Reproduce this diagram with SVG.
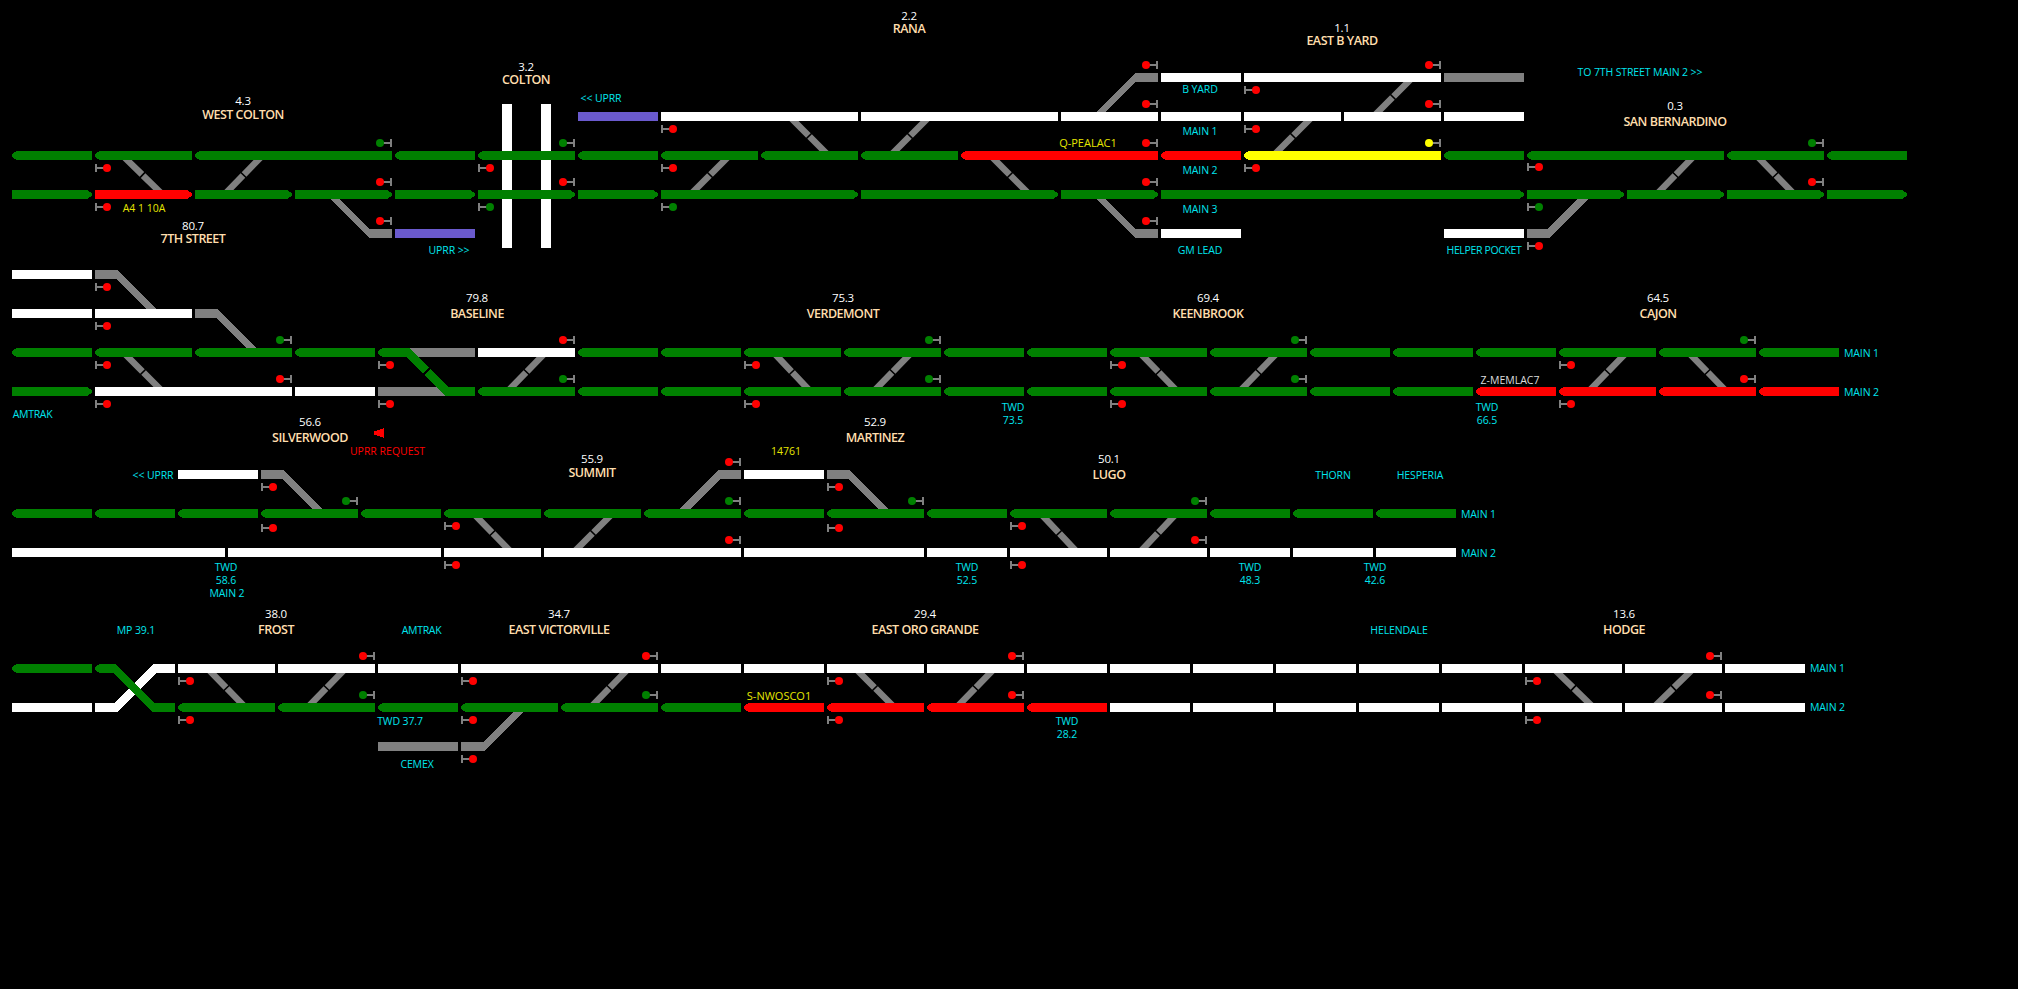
<svg xmlns="http://www.w3.org/2000/svg" width="2018" height="989" viewBox="0 0 2018 989">
<style>
path,rect{shape-rendering:crispEdges}
text{font-family:"Open Sans","Noto Sans","Liberation Sans",sans-serif;text-anchor:middle}
.n{font-size:11.5px;fill:#fff;letter-spacing:-.2px}
.s{font-size:12.5px;font-weight:600;fill:#ffdead;letter-spacing:-.5px}
.c{font-size:10.5px;fill:#00e5ee;letter-spacing:-.12px}
.y{font-size:10.5px;fill:#e6e600}
.st{text-anchor:start}
.g{fill:#008000}.r{fill:#f00}.ye{fill:#ff0}.w{fill:#fff}.b{fill:#6a5acd}.a{fill:#808080}
.x{stroke:#808080;stroke-width:6.5;stroke-dasharray:48.5 3 60;fill:none}
</style>
<defs>
<path id="L80" d="M0 3L5 0H80V9H5L0 6z"/>
<path id="L97" d="M0 3L5 0H97V9H5L0 6z"/>
<path id="L197" d="M0 3L5 0H197V9H5L0 6z"/>
<path id="R80" d="M0 0H75L80 3V6L75 9H0z"/>
<path id="R97" d="M0 0H92L97 3V6L92 9H0z"/>
<path id="R197" d="M0 0H192L197 3V6L192 9H0z"/>
<path id="R363" d="M0 0H358L363 3V6L358 9H0z"/>
<rect id="P80" width="80" height="9"/>
<rect id="P97" width="97" height="9"/>
<rect id="P197" width="197" height="9"/>
<rect id="P213" width="213" height="9"/>
<g id="SL"><path fill="#808080" d="M0-4H2V-1H9V1H2V4H0z"/><circle cx="12" r="4"/></g>
<g id="SR"><path fill="#808080" d="M0-4H-2V-1H-9V1H-2V4H0z"/><circle cx="-12" r="4"/></g>
</defs>
<rect width="2018" height="989" fill="#000"/>
<g id="colton-crossing" class="w"><rect x="502" y="104" width="10" height="144"/><rect x="541" y="104" width="10" height="144"/></g>
<g id="connectors">
<g id="crossovers" class="x">
<line pathLength="100" x1="123" y1="156" x2="162" y2="194"/><line pathLength="100" x1="262" y1="156" x2="225" y2="194"/>
<line pathLength="100" x1="790" y1="117" x2="828" y2="155"/><line pathLength="100" x1="929" y1="117" x2="891" y2="155"/>
<line pathLength="100" x1="729" y1="156" x2="691" y2="194"/><line pathLength="100" x1="991" y1="156" x2="1029" y2="194"/>
<line pathLength="100" x1="1412" y1="78" x2="1374" y2="116"/><line pathLength="100" x1="1312" y1="117" x2="1274" y2="155"/>
<line pathLength="100" x1="1694" y1="156" x2="1657" y2="194"/><line pathLength="100" x1="1757" y1="156" x2="1794" y2="194"/>
<line pathLength="100" x1="124" y1="353" x2="162" y2="391"/><line pathLength="100" x1="545" y1="353" x2="508" y2="391"/>
<line pathLength="100" x1="774" y1="353" x2="810" y2="391"/><line pathLength="100" x1="911" y1="353" x2="874" y2="391"/>
<line pathLength="100" x1="1140" y1="353" x2="1177" y2="391"/><line pathLength="100" x1="1277" y1="353" x2="1240" y2="391"/>
<line pathLength="100" x1="1626" y1="353" x2="1589" y2="391"/><line pathLength="100" x1="1689" y1="353" x2="1726" y2="391"/>
<line pathLength="100" x1="474" y1="514" x2="511" y2="552"/><line pathLength="100" x1="612" y1="514" x2="574" y2="552"/>
<line pathLength="100" x1="1041" y1="514" x2="1077" y2="552"/><line pathLength="100" x1="1176" y1="514" x2="1140" y2="552"/>
<line pathLength="100" x1="208" y1="669" x2="245" y2="707"/><line pathLength="100" x1="345" y1="669" x2="308" y2="707"/>
<line pathLength="100" x1="628" y1="669" x2="591" y2="707"/><line pathLength="100" x1="856" y1="669" x2="894" y2="707"/>
<line pathLength="100" x1="994" y1="669" x2="957" y2="707"/><line pathLength="100" x1="1554" y1="669" x2="1593" y2="707"/>
<line pathLength="100" x1="1693" y1="669" x2="1654" y2="707"/>
</g>
<g id="turnouts" class="a">
<path d="M330 199H340L369 229H392V238H369z"/>
<path d="M1097 112H1106L1135 82H1158V73H1135z"/>
<path d="M1097 199H1106L1135 229H1158V238H1135z"/>
<path d="M1577 199H1588L1550 238H1527V229H1548z"/>
<path d="M95 270H118L156 309H147L116 279H95z"/>
<path d="M195 309H218L256 348H246L216 318H195z"/>
<path d="M261 470H284L322 509H312L282 479H261z"/>
<path d="M741 470H718L680 509H690L720 479H741z"/>
<path d="M827 470H850L888 509H878L848 479H827z"/>
<path d="M513 712H523L484 751H461V742H483z"/>
<rect x="1444" y="73" width="80" height="9"/>
<rect x="378" y="742" width="80" height="9"/>
<rect x="409" y="348" width="66" height="9"/>
<path d="M378 387H447V396H378z"/>
</g>
<g id="baseline-route" class="g"><path d="M378 351L383 348H409L448 387H475V396H445L407 357H383L378 354z"/></g>
<path id="baseline-break" d="M423 375L431 367" stroke="#000" stroke-width="1.5"/>
<g id="mp39-crossing"><path class="w" d="M95 703H115L153 664H175V673H157L117 712H95z"/><path class="g" d="M95 667L100 664H115L155 703H175V712H153L113 673H100L95 670z"/></g>
</g>
<g id="tracks">
<g id="track-y73" class="w"><use href="#P80" x="1161" y="73"/><use href="#P197" x="1244" y="73"/></g>
<g id="track-y112"><use class="b" href="#P80" x="578" y="112"/><g class="w"><rect x="661" y="112" width="197" height="9"/><use href="#P197" x="861" y="112"/><use href="#P97" x="1061" y="112"/><use href="#P80" x="1161" y="112"/><use href="#P97" x="1244" y="112"/><use href="#P97" x="1344" y="112"/><use href="#P80" x="1444" y="112"/></g></g>
<g id="track-y151" class="g"><use href="#L80" x="12" y="151"/><use href="#L97" x="95" y="151"/><use href="#L197" x="195" y="151"/><use href="#L80" x="395" y="151"/><use href="#L97" x="478" y="151"/><use href="#L80" x="578" y="151"/><use href="#L97" x="661" y="151"/><use href="#L97" x="761" y="151"/><use href="#L97" x="861" y="151"/><use class="r" href="#L197" x="961" y="151"/><use class="r" href="#L80" x="1161" y="151"/><use class="ye" href="#L197" x="1244" y="151"/><use href="#L80" x="1444" y="151"/><use href="#L197" x="1527" y="151"/><use href="#L97" x="1727" y="151"/><use href="#L80" x="1827" y="151"/></g>
<g id="track-y190" class="g"><use href="#R80" x="12" y="190"/><use class="r" href="#R97" x="95" y="190"/><use href="#R97" x="195" y="190"/><use href="#R97" x="295" y="190"/><use href="#R80" x="395" y="190"/><use href="#R97" x="478" y="190"/><use href="#R80" x="578" y="190"/><use href="#R197" x="661" y="190"/><use href="#R197" x="861" y="190"/><use href="#R97" x="1061" y="190"/><use href="#R363" x="1161" y="190"/><use href="#R97" x="1527" y="190"/><use href="#R97" x="1627" y="190"/><use href="#R97" x="1727" y="190"/><use href="#R80" x="1827" y="190"/></g>
<g id="track-y229"><use class="b" href="#P80" x="395" y="229"/><use class="w" href="#P80" x="1161" y="229"/><use class="w" href="#P80" x="1444" y="229"/></g>
<g id="track-y270" class="w"><use href="#P80" x="12" y="270"/></g>
<g id="track-y309" class="w"><use href="#P80" x="12" y="309"/><use href="#P97" x="95" y="309"/></g>
<g id="track-y348" class="g"><use href="#L80" x="12" y="348"/><use href="#L97" x="95" y="348"/><use href="#L97" x="195" y="348"/><use href="#L80" x="295" y="348"/><use class="w" href="#P97" x="478" y="348"/><use href="#L80" x="578" y="348"/><use href="#L80" x="661" y="348"/><use href="#L97" x="744" y="348"/><use href="#L97" x="844" y="348"/><use href="#L80" x="944" y="348"/><use href="#L80" x="1027" y="348"/><use href="#L97" x="1110" y="348"/><use href="#L97" x="1210" y="348"/><use href="#L80" x="1310" y="348"/><use href="#L80" x="1393" y="348"/><use href="#L80" x="1476" y="348"/><use href="#L97" x="1559" y="348"/><use href="#L97" x="1659" y="348"/><use href="#L80" x="1759" y="348"/></g>
<g id="track-y387" class="g"><use href="#R80" x="12" y="387"/><use class="w" href="#P197" x="95" y="387"/><use class="w" href="#P80" x="295" y="387"/><use href="#L97" x="478" y="387"/><use href="#L80" x="578" y="387"/><use href="#L80" x="661" y="387"/><use href="#L97" x="744" y="387"/><use href="#L97" x="844" y="387"/><use href="#L80" x="944" y="387"/><use href="#L80" x="1027" y="387"/><use href="#L97" x="1110" y="387"/><use href="#L97" x="1210" y="387"/><use href="#L80" x="1310" y="387"/><use href="#L80" x="1393" y="387"/><use class="r" href="#L80" x="1476" y="387"/><use class="r" href="#L97" x="1559" y="387"/><use class="r" href="#L97" x="1659" y="387"/><use class="r" href="#L80" x="1759" y="387"/></g>
<g id="track-y470" class="w"><use href="#P80" x="178" y="470"/><use href="#P80" x="744" y="470"/></g>
<g id="track-y509" class="g"><use href="#L80" x="12" y="509"/><use href="#L80" x="95" y="509"/><use href="#L80" x="178" y="509"/><use href="#L97" x="261" y="509"/><use href="#L80" x="361" y="509"/><use href="#L97" x="444" y="509"/><use href="#L97" x="544" y="509"/><use href="#L97" x="644" y="509"/><use href="#L80" x="744" y="509"/><use href="#L97" x="827" y="509"/><use href="#L80" x="927" y="509"/><use href="#L97" x="1010" y="509"/><use href="#L97" x="1110" y="509"/><use href="#L80" x="1210" y="509"/><use href="#L80" x="1293" y="509"/><use href="#L80" x="1376" y="509"/></g>
<g id="track-y548" class="w"><use href="#P213" x="12" y="548"/><use href="#P213" x="228" y="548"/><use href="#P97" x="444" y="548"/><use href="#P197" x="544" y="548"/><rect x="744" y="548" width="180" height="9"/><use href="#P80" x="927" y="548"/><use href="#P97" x="1010" y="548"/><use href="#P97" x="1110" y="548"/><use href="#P80" x="1210" y="548"/><use href="#P80" x="1293" y="548"/><use href="#P80" x="1376" y="548"/></g>
<g id="track-y664"><use class="g" href="#L80" x="12" y="664"/><g class="w"><use href="#P97" x="178" y="664"/><use href="#P97" x="278" y="664"/><use href="#P80" x="378" y="664"/><use href="#P197" x="461" y="664"/><use href="#P80" x="661" y="664"/><use href="#P80" x="744" y="664"/><use href="#P97" x="827" y="664"/><use href="#P97" x="927" y="664"/><use href="#P80" x="1027" y="664"/><use href="#P80" x="1110" y="664"/><use href="#P80" x="1193" y="664"/><use href="#P80" x="1276" y="664"/><use href="#P80" x="1359" y="664"/><use href="#P80" x="1442" y="664"/><use href="#P97" x="1525" y="664"/><use href="#P97" x="1625" y="664"/><use href="#P80" x="1725" y="664"/></g></g>
<g id="track-y703" class="g"><use class="w" href="#P80" x="12" y="703"/><use href="#L97" x="178" y="703"/><use href="#L97" x="278" y="703"/><use href="#L80" x="378" y="703"/><use href="#L97" x="461" y="703"/><use href="#L97" x="561" y="703"/><use href="#L80" x="661" y="703"/><use class="r" href="#L80" x="744" y="703"/><use class="r" href="#L97" x="827" y="703"/><use class="r" href="#L97" x="927" y="703"/><use class="r" href="#L80" x="1027" y="703"/><g class="w"><use href="#P80" x="1110" y="703"/><use href="#P80" x="1193" y="703"/><use href="#P80" x="1276" y="703"/><use href="#P80" x="1359" y="703"/><use href="#P80" x="1442" y="703"/><use href="#P97" x="1525" y="703"/><use href="#P97" x="1625" y="703"/><use href="#P80" x="1725" y="703"/></g></g>
</g>
<g id="signals-red" class="r">
<use href="#SL" x="95" y="168"/><use href="#SL" x="95" y="207"/><use href="#SL" x="478" y="168"/><use href="#SL" x="661" y="129"/><use href="#SL" x="661" y="168"/><use href="#SL" x="1244" y="90"/><use href="#SL" x="1244" y="129"/><use href="#SL" x="1244" y="168"/><use href="#SL" x="1527" y="167"/><use href="#SL" x="1527" y="246"/>
<use href="#SR" x="392" y="182"/><use href="#SR" x="392" y="221"/><use href="#SR" x="575" y="182"/><use href="#SR" x="1158" y="65"/><use href="#SR" x="1158" y="104"/><use href="#SR" x="1158" y="143"/><use href="#SR" x="1158" y="182"/><use href="#SR" x="1158" y="221"/><use href="#SR" x="1441" y="65"/><use href="#SR" x="1441" y="104"/><use href="#SR" x="1824" y="182"/>
<use href="#SL" x="95" y="287"/><use href="#SL" x="95" y="326"/><use href="#SL" x="95" y="365"/><use href="#SL" x="95" y="404"/><use href="#SL" x="378" y="365"/><use href="#SL" x="378" y="404"/><use href="#SL" x="744" y="365"/><use href="#SL" x="744" y="404"/><use href="#SL" x="1110" y="365"/><use href="#SL" x="1110" y="404"/><use href="#SL" x="1559" y="365"/><use href="#SL" x="1559" y="404"/>
<use href="#SR" x="292" y="379"/><use href="#SR" x="575" y="340"/><use href="#SR" x="1756" y="379"/>
<use href="#SL" x="261" y="487"/><use href="#SL" x="261" y="528"/><use href="#SL" x="444" y="526"/><use href="#SL" x="444" y="565"/><use href="#SL" x="827" y="487"/><use href="#SL" x="827" y="528"/><use href="#SL" x="1010" y="526"/><use href="#SL" x="1010" y="565"/>
<use href="#SR" x="741" y="462"/><use href="#SR" x="741" y="540"/><use href="#SR" x="1207" y="540"/>
<use href="#SL" x="178" y="681"/><use href="#SL" x="178" y="720"/><use href="#SL" x="461" y="681"/><use href="#SL" x="461" y="720"/><use href="#SL" x="461" y="759"/><use href="#SL" x="827" y="681"/><use href="#SL" x="827" y="720"/><use href="#SL" x="1525" y="681"/><use href="#SL" x="1525" y="720"/>
<use href="#SR" x="375" y="656"/><use href="#SR" x="658" y="656"/><use href="#SR" x="1024" y="656"/><use href="#SR" x="1024" y="695"/><use href="#SR" x="1722" y="656"/><use href="#SR" x="1722" y="695"/>
</g>
<g id="signals-green" class="g">
<use href="#SL" x="478" y="207"/><use href="#SL" x="661" y="207"/><use href="#SL" x="1527" y="207"/>
<use href="#SR" x="392" y="143"/><use href="#SR" x="575" y="143"/><use href="#SR" x="1824" y="143"/>
<use href="#SR" x="292" y="340"/><use href="#SR" x="575" y="379"/><use href="#SR" x="941" y="340"/><use href="#SR" x="941" y="379"/><use href="#SR" x="1307" y="340"/><use href="#SR" x="1307" y="379"/><use href="#SR" x="1756" y="340"/>
<use href="#SR" x="358" y="501"/><use href="#SR" x="741" y="501"/><use href="#SR" x="924" y="501"/><use href="#SR" x="1207" y="501"/>
<use href="#SR" x="375" y="695"/><use href="#SR" x="658" y="695"/>
</g>
<g id="signals-yellow" class="ye"><use href="#SR" x="1441" y="143"/></g>
<path id="uprr-request-marker" class="r" d="M374 431.500L384 428V438L374 434.500z"/>
<g id="stations">
<g id="st-west-colton"><text class="n" x="243" y="105">4.3</text><text class="s" x="243" y="119">WEST COLTON</text></g>
<g id="st-colton"><text class="n" x="526" y="71">3.2</text><text class="s" x="526" y="84">COLTON</text></g>
<g id="st-7th-street"><text class="n" x="193" y="230">80.7</text><text class="s" x="193" y="243">7TH STREET</text></g>
<g id="st-rana"><text class="n" x="909" y="20">2.2</text><text class="s" x="909" y="33">RANA</text></g>
<g id="st-east-b-yard"><text class="n" x="1342" y="32">1.1</text><text class="s" x="1342" y="45">EAST B YARD</text></g>
<g id="st-san-bernardino"><text class="n" x="1675" y="110">0.3</text><text class="s" x="1675" y="126">SAN BERNARDINO</text></g>
<g id="st-baseline"><text class="n" x="477" y="302">79.8</text><text class="s" x="477" y="318">BASELINE</text></g>
<g id="st-verdemont"><text class="n" x="843" y="302">75.3</text><text class="s" x="843" y="318">VERDEMONT</text></g>
<g id="st-keenbrook"><text class="n" x="1208" y="302">69.4</text><text class="s" x="1208" y="318">KEENBROOK</text></g>
<g id="st-cajon"><text class="n" x="1658" y="302">64.5</text><text class="s" x="1658" y="318">CAJON</text></g>
<g id="st-silverwood"><text class="n" x="310" y="426">56.6</text><text class="s" x="310" y="442">SILVERWOOD</text></g>
<g id="st-martinez"><text class="n" x="875" y="426">52.9</text><text class="s" x="875" y="442">MARTINEZ</text></g>
<g id="st-summit"><text class="n" x="592" y="463">55.9</text><text class="s" x="592" y="477">SUMMIT</text></g>
<g id="st-lugo"><text class="n" x="1109" y="463">50.1</text><text class="s" x="1109" y="479">LUGO</text></g>
<g id="st-frost"><text class="n" x="276" y="618">38.0</text><text class="s" x="276" y="634">FROST</text></g>
<g id="st-east-victorville"><text class="n" x="559" y="618">34.7</text><text class="s" x="559" y="634">EAST VICTORVILLE</text></g>
<g id="st-east-oro-grande"><text class="n" x="925" y="618">29.4</text><text class="s" x="925" y="634">EAST ORO GRANDE</text></g>
<g id="st-hodge"><text class="n" x="1624" y="618">13.6</text><text class="s" x="1624" y="634">HODGE</text></g>
</g>
<g id="labels">
<text class="c" x="449" y="254">UPRR &gt;&gt;</text>
<text class="c" x="601" y="102">&lt;&lt; UPRR</text>
<text class="c" x="1200" y="93">B YARD</text><text class="c" x="1200" y="135">MAIN 1</text><text class="c" x="1200" y="174">MAIN 2</text><text class="c" x="1200" y="213">MAIN 3</text><text class="c" x="1200" y="254">GM LEAD</text>
<text class="c" x="1640" y="76">TO 7TH STREET MAIN 2 &gt;&gt;</text>
<text class="c" x="1484" y="254" style="letter-spacing:-.35px">HELPER POCKET</text>
<text class="c" x="32.500" y="418" style="letter-spacing:-.3px">AMTRAK</text>
<text class="c" x="1013" y="411">TWD</text><text class="c" x="1013" y="424">73.5</text>
<text class="c" x="1487" y="411">TWD</text><text class="c" x="1487" y="424">66.5</text>
<text class="c st" x="1844" y="357">MAIN 1</text><text class="c st" x="1844" y="396">MAIN 2</text>
<text class="c" x="153" y="479">&lt;&lt; UPRR</text>
<text class="c" x="226" y="571">TWD</text><text class="c" x="226" y="584">58.6</text><text class="c" x="227" y="597">MAIN 2</text>
<text class="c" x="967" y="571">TWD</text><text class="c" x="967" y="584">52.5</text>
<text class="c" x="1250" y="571">TWD</text><text class="c" x="1250" y="584">48.3</text>
<text class="c" x="1375" y="571">TWD</text><text class="c" x="1375" y="584">42.6</text>
<text class="c" x="1333" y="479">THORN</text><text class="c" x="1420" y="479">HESPERIA</text>
<text class="c st" x="1461" y="518">MAIN 1</text><text class="c st" x="1461" y="557">MAIN 2</text>
<text class="c" x="136" y="634">MP 39.1</text><text class="c" x="421.500" y="634" style="letter-spacing:-.3px">AMTRAK</text>
<text class="c" x="400" y="725">TWD 37.7</text><text class="c" x="417" y="768">CEMEX</text>
<text class="c" x="1067" y="725">TWD</text><text class="c" x="1067" y="738">28.2</text>
<text class="c" x="1399" y="634">HELENDALE</text>
<text class="c st" x="1810" y="672">MAIN 1</text><text class="c st" x="1810" y="711">MAIN 2</text>
<text class="y" x="144" y="212">A4 1 10A</text>
<text class="y" x="1088" y="147" style="font-size:11px">Q-PEALAC1</text>
<text class="y" x="786" y="455">14761</text>
<text class="y" x="779" y="700" style="font-size:11px">S-NWOSCO1</text>
<text style="font-size:10.5px;fill:#ddd" x="1510" y="384">Z-MEMLAC7</text>
<text style="font-size:10.500px;fill:#f00" x="387.500" y="455">UPRR REQUEST</text>
</g>
</svg>
